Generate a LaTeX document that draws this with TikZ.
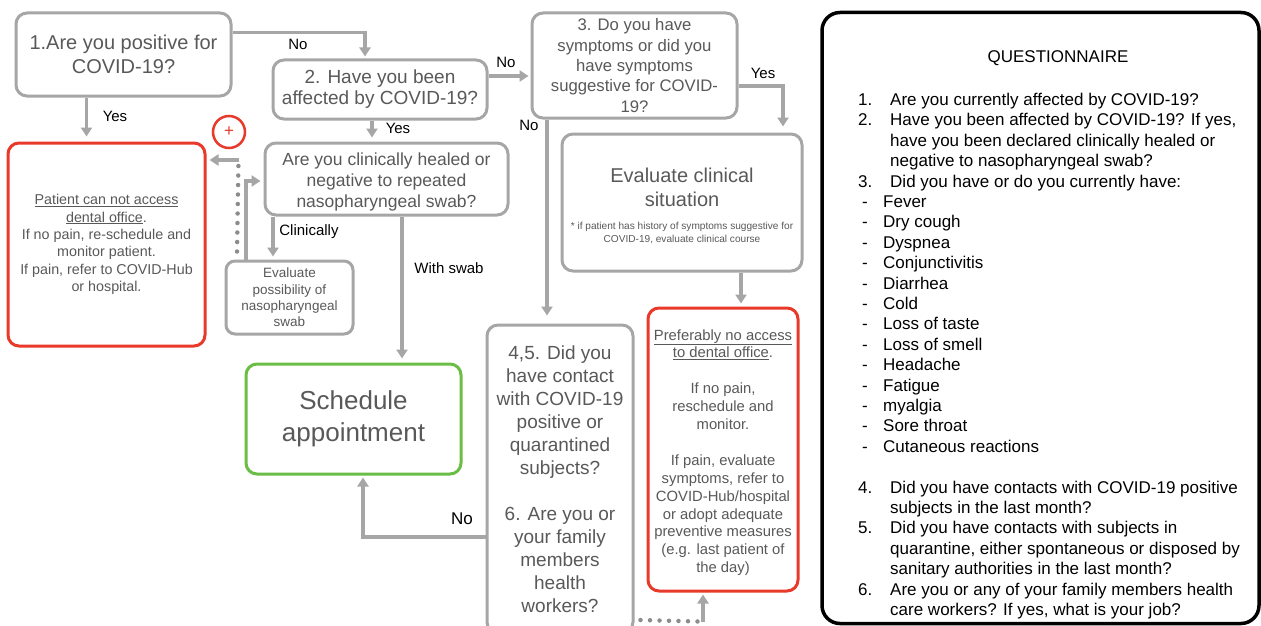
\documentclass[tikz,border=0pt]{standalone}
\usepackage{fontspec}
\setmainfont{Liberation Sans}
\usetikzlibrary{positioning,calc,arrows.meta}
\definecolor{lgray}{HTML}{A6A6A6}
\definecolor{dotgray}{HTML}{8C8C8C}
\definecolor{txtgray}{HTML}{595959}
\definecolor{alert}{HTML}{E8392B}
\definecolor{okgreen}{HTML}{6ABD45}
\tikzset{
  qbox/.style={draw=lgray, line width=3pt, rounded corners=11pt, text=txtgray, align=center, inner sep=0pt},
  redbox/.style={qbox, draw=alert},
  greenbox/.style={qbox, draw=okgreen},
  arr/.style={draw=lgray, line width=3.5pt, -{Triangle[length=9pt,width=11pt]}},
  dotline/.style={draw=dotgray, line width=4.5pt, line cap=round, dash pattern=on 0pt off 9.5pt},
  lbl/.style={font=\fontsize{15}{17}\selectfont, text=black, inner sep=0pt}
}
\begin{document}
\begin{tikzpicture}[x=1pt,y=-1pt]
  \useasboundingbox[fill=white] (0,0) rectangle (1261,626);

  % Questions on the left
  \node[qbox, minimum width=215pt, minimum height=83pt, font=\fontsize{20}{23.5}\selectfont] (q1) at (123.5,54.5) {1.Are you positive for\\COVID-19?};
  \node[qbox, minimum width=214pt, minimum height=59pt, font=\fontsize{19}{21}\selectfont] (q2) at (380,89.5) {2. Have you been\\affected by COVID-19?};
  \node[qbox, minimum width=243pt, minimum height=72pt, font=\fontsize{17.5}{21}\selectfont] (c1) at (386.5,179) {\rule{0pt}{18.8pt}Are you clinically healed or\\negative to repeated\\nasopharyngeal swab?};
  \node[qbox, minimum width=127pt, minimum height=73pt, rounded corners=9pt, font=\fontsize{13.5}{16.3}\selectfont] (es) at (289.5,297.5) {Evaluate\\possibility of\\nasopharyngeal\\swab};

  % Outcomes
  \node[redbox, minimum width=197pt, minimum height=203pt, font=\fontsize{14.3}{17.4}\selectfont] (r1) at (106.5,244.5) {\underline{Patient can not access}\\\underline{dental office}.\\If no pain, re-schedule and\\monitor patient.\\If pain, refer to COVID-Hub\\or hospital.};
  \node[greenbox, minimum width=215pt, minimum height=110pt, font=\fontsize{26}{32}\selectfont] (gr) at (353.5,419) {Schedule\\appointment};
  \node[draw=alert, circle, line width=2.5pt, minimum size=32pt, inner sep=0pt, text=alert, font=\fontsize{17}{17}\selectfont] (plus) at (229,132) {+};

  % Symptoms branch
  \node[qbox, minimum width=205pt, minimum height=105pt, font=\fontsize{16.7}{20.3}\selectfont] (q3) at (634.5,65.5) {3. Do you have\\symptoms or did you\\have symptoms\\suggestive for COVID-\\19?};
  \node[qbox, minimum width=240pt, minimum height=137pt, font=\fontsize{20}{24}\selectfont] (e1) at (682,202.5) {\rule{0pt}{23.6pt}Evaluate clinical\\situation\\[6pt]{\fontsize{10.1}{13}\selectfont\begin{tabular}{@{}c@{}}* if patient has history of symptoms suggestive for\\COVID-19, evaluate clinical course\end{tabular}}};
  \node[redbox, minimum width=150pt, minimum height=283pt, font=\fontsize{14.8}{17.9}\selectfont] (r2) at (723,449.5) {\rule{0pt}{16.8pt}\underline{Preferably no access}\\\underline{to dental office}.\\[17.9pt]If no pain,\\reschedule and\\monitor.\\[17.9pt]If pain, evaluate\\symptoms, refer to\\COVID-Hub/hospital\\or adopt adequate\\preventive measures\\(e.g. last patient of\\the day)};
  \node[qbox, minimum width=146pt, minimum height=308pt, font=\fontsize{19}{23}\selectfont] (b45) at (560,479) {4,5. Did you\\have contact\\with COVID-19\\positive or\\quarantined\\subjects?\\[23pt]6. Are you or\\your family\\members\\health\\workers?};

  % Labels
  \node[lbl] (lno1) at (298,44) {No};
  \node[lbl] (lyes1) at (115,116) {Yes};
  \node[lbl] (lyes2) at (398,128) {Yes};
  \node[lbl] (lno2) at (506,62) {No};
  \node[lbl] (lno3) at (529,125) {No};
  \node[lbl] (lyes3) at (763,73) {Yes};
  \node[lbl] (lclin) at (309,232) {Clinically};
  \node[lbl] (lswab) at (449,268) {With swab};
  \node[lbl, font=\fontsize{17}{20}\selectfont] (lno4) at (462,519) {No};

  % Connectors
  \draw[arr, shorten >=2pt] ([yshift=22pt]q1.east) -| ([xshift=-15pt]q2.north);
  \draw[arr, shorten >=5pt] ([xshift=-37pt]q1.south) -- ([xshift=-20pt]r1.north);
  \draw[arr, shorten >=4pt] ([xshift=-8pt]q2.south) -- ([xshift=-14.5pt]c1.north);
  \draw[arr, shorten >=2pt] ([yshift=13.5pt]q2.east) -- ([yshift=-10.5pt]q3.west);
  \draw[arr, shorten >=6pt] ([yshift=-20.5pt]q3.east) -| ([xshift=101pt]e1.north);
  \draw[arr, shorten >=8pt] ([xshift=-87.5pt]q3.south) -- ([xshift=-13pt]b45.north);
  \draw[arr, shorten >=3pt] ([xshift=59pt]e1.south) -- ([xshift=18pt]r2.north);
  \draw[arr, shorten >=3pt] ([xshift=-113.5pt]c1.south) -- ([xshift=-16.5pt]es.north);
  \draw[arr, shorten >=4pt] ([xshift=15.5pt]c1.south) -- ([xshift=48.5pt]gr.north);
  \draw[arr, shorten >=3pt] ([xshift=-43.5pt]es.north) |- ([yshift=-2pt]c1.west);
  \draw[arr, shorten >=2pt] ([yshift=-58pt]b45.west) -| ([xshift=9.5pt]gr.south);

  % Dotted links
  \coordinate (dotc) at ([xshift=32pt,yshift=84.5pt]r1.east);
  \draw[dotline] ([xshift=-52.5pt,yshift=8pt]es.north) -- (dotc);
  \draw[arr, shorten >=3pt] (dotc) -- ([yshift=84.5pt]r1.east);
  \coordinate (dotd) at ([xshift=-20pt,yshift=-29pt]r2.south);
  \draw[dotline] ([xshift=6pt,yshift=-141pt]b45.east) -- ([xshift=-5pt]dotd);
  \draw[arr, shorten >=2pt] (dotd) -- ([xshift=-20pt]r2.south);

  % Questionnaire
  \node[draw=black, line width=3.5pt, rounded corners=18pt, minimum width=437pt, minimum height=611pt] (qn) at (1040.5,318) {};
  \node[font=\fontsize{17}{20}\selectfont, inner sep=0pt] (qtitle) at (1058,58.5) {QUESTIONNAIRE};
  \node[anchor=north west, align=left, inner sep=0pt, font=\fontsize{17}{20.4}\selectfont] (qlist) at (858,93) {%
    \makebox[32pt][l]{1.}Are you currently affected by COVID-19?\\
    \makebox[32pt][l]{2.}Have you been affected by COVID-19? If yes,\\
    \hspace*{32pt}have you been declared clinically healed or\\
    \hspace*{32pt}negative to nasopharyngeal swab?\\
    \makebox[32pt][l]{3.}Did you have or do you currently have:\\
    \hspace*{4pt}\makebox[21pt][l]{-}Fever\\
    \hspace*{4pt}\makebox[21pt][l]{-}Dry cough\\
    \hspace*{4pt}\makebox[21pt][l]{-}Dyspnea\\
    \hspace*{4pt}\makebox[21pt][l]{-}Conjunctivitis\\
    \hspace*{4pt}\makebox[21pt][l]{-}Diarrhea\\
    \hspace*{4pt}\makebox[21pt][l]{-}Cold\\
    \hspace*{4pt}\makebox[21pt][l]{-}Loss of taste\\
    \hspace*{4pt}\makebox[21pt][l]{-}Loss of smell\\
    \hspace*{4pt}\makebox[21pt][l]{-}Headache\\
    \hspace*{4pt}\makebox[21pt][l]{-}Fatigue\\
    \hspace*{4pt}\makebox[21pt][l]{-}myalgia\\
    \hspace*{4pt}\makebox[21pt][l]{-}Sore throat\\
    \hspace*{4pt}\makebox[21pt][l]{-}Cutaneous reactions\\[20.4pt]
    \makebox[32pt][l]{4.}Did you have contacts with COVID-19 positive\\
    \hspace*{32pt}subjects in the last month?\\
    \makebox[32pt][l]{5.}Did you have contacts with subjects in\\
    \hspace*{32pt}quarantine, either spontaneous or disposed by\\
    \hspace*{32pt}sanitary authorities in the last month?\\
    \makebox[32pt][l]{6.}Are you or any of your family members health\\
    \hspace*{32pt}care workers? If yes, what is your job?};
\end{tikzpicture}
\end{document}
